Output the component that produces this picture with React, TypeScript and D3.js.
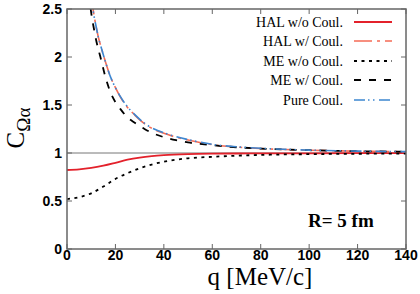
import React from "react";
import * as d3 from "d3";

const xTicks = [0, 20, 40, 60, 80, 100, 120, 140];
const yTicks = [0, 0.5, 1, 1.5, 2, 2.5];
const yTickLabels = ["0", "0.5", "1", "1.5", "2", "2.5"];

const qHalNoC = [0, 5, 10, 15, 20, 25, 30, 35, 40, 50, 60, 70, 80, 100, 120, 140];
const halNoC = [0.823, 0.83, 0.845, 0.868, 0.898, 0.93, 0.952, 0.967, 0.977, 0.988, 0.993, 0.995, 0.996, 0.997, 0.998, 0.998];

const qCoul = [10, 11, 12, 13, 14, 16, 18, 20, 22, 25, 28, 32, 36, 40, 45, 50, 60, 70, 80, 90, 100, 120, 140];
const halC = [2.63, 2.46, 2.32, 2.2, 2.11, 1.94, 1.79, 1.68, 1.585, 1.475, 1.395, 1.305, 1.245, 1.205, 1.165, 1.135, 1.087, 1.062, 1.047, 1.036, 1.029, 1.019, 1.013];
const pureC = [2.62, 2.45, 2.32, 2.2, 2.11, 1.94, 1.79, 1.68, 1.59, 1.48, 1.4, 1.31, 1.25, 1.21, 1.17, 1.14, 1.09, 1.065, 1.049, 1.038, 1.03, 1.02, 1.014];

const qMeNoC = [0, 5, 10, 15, 20, 25, 30, 35, 40, 45, 50, 60, 70, 80, 90, 100, 120, 140];
const meNoC = [0.52, 0.54, 0.58, 0.65, 0.73, 0.79, 0.84, 0.88, 0.91, 0.93, 0.945, 0.96, 0.972, 0.98, 0.985, 0.988, 0.992, 0.994];

const qMeC = [9, 10, 11, 12, 14, 16, 18, 20, 22, 25, 28, 32, 36, 40, 45, 50, 60, 70, 80, 90, 100, 120, 140];
const meC = [2.66, 2.46, 2.31, 2.18, 1.98, 1.78, 1.63, 1.53, 1.46, 1.37, 1.315, 1.25, 1.2, 1.165, 1.133, 1.11, 1.081, 1.06, 1.046, 1.036, 1.029, 1.019, 1.013];

const legendLabels = ["HAL w/o Coul.", "HAL w/ Coul.", "ME w/o Coul.", "ME w/ Coul.", "Pure Coul."];

const series = [
  { name: legendLabels[0], q: qHalNoC, v: halNoC, color: "#e3212b", dash: "", width: 1.8 },
  { name: legendLabels[1], q: qCoul, v: halC, color: "#f56b55", dash: "18,5,3,5", width: 1.6 },
  { name: legendLabels[2], q: qMeNoC, v: meNoC, color: "#000000", dash: "3,4.5", width: 1.8 },
  { name: legendLabels[3], q: qMeC, v: meC, color: "#000000", dash: "7,8", width: 1.8 },
  { name: legendLabels[4], q: qCoul, v: pureC, color: "#3d86d0", dash: "11,3,1.5,3.5,1.5,4.5", width: 1.6 },
];

export default function App() {
  const left = 67, right = 406, top = 9, bottom = 249;
  const x = d3.scaleLinear().domain([0, 140]).range([left, right]);
  const y = d3.scaleLinear().domain([0, 2.5]).range([bottom, top]);
  const line = d3
    .line<[number, number]>()
    .x((d) => x(d[0]))
    .y((d) => y(d[1]))
    .curve(d3.curveMonotoneX);
  const axisColor = "#666";
  const tickLen = 5;
  const legendX0 = 354, legendX1 = 392;
  const legendRows = [22, 41, 61, 80, 100];

  return (
    <svg
      width={420}
      height={294}
      style={{ position: "absolute", left: 0, top: 0, background: "#fff" }}
    >
      <defs>
        <clipPath id="plotClip">
          <rect x={left} y={top} width={right - left} height={bottom - top} />
        </clipPath>
      </defs>
      <rect x={0} y={0} width={420} height={294} fill="#fff" />
      {/* reference line at 1 */}
      <line x1={left} x2={right} y1={y(1)} y2={y(1)} stroke="#777" strokeWidth={1} />
      {/* ticks */}
      {xTicks.map((t) => (
        <g key={"xt" + t}>
          <line x1={x(t)} x2={x(t)} y1={bottom} y2={bottom - tickLen} stroke={axisColor} strokeWidth={1} />
          <line x1={x(t)} x2={x(t)} y1={top} y2={top + tickLen} stroke={axisColor} strokeWidth={1} />
          <text
            x={x(t)}
            y={260}
            textAnchor="middle"
            fontFamily="'Liberation Sans', Arial, sans-serif"
            fontWeight="bold"
            fontSize={14}
          >
            {t}
          </text>
        </g>
      ))}
      {yTicks.map((t, i) => (
        <g key={"yt" + t}>
          <line x1={left} x2={left + tickLen} y1={y(t)} y2={y(t)} stroke={axisColor} strokeWidth={1} />
          <line x1={right} x2={right - tickLen} y1={y(t)} y2={y(t)} stroke={axisColor} strokeWidth={1} />
          <text
            x={62}
            y={y(t) + 5}
            textAnchor="end"
            fontFamily="'Liberation Sans', Arial, sans-serif"
            fontWeight="bold"
            fontSize={14}
          >
            {yTickLabels[i]}
          </text>
        </g>
      ))}
      {/* curves */}
      <g clipPath="url(#plotClip)">
        {series.map((s) => (
          <path
            key={s.name}
            d={line(s.q.map((q, i) => [q, s.v[i]] as [number, number])) || ""}
            fill="none"
            stroke={s.color}
            strokeWidth={s.width}
            strokeDasharray={s.dash || undefined}
          />
        ))}
      </g>
      {/* frame */}
      <rect
        x={left}
        y={top}
        width={right - left}
        height={bottom - top}
        fill="none"
        stroke={axisColor}
        strokeWidth={1.5}
      />
      {/* legend */}
      {series.map((s, i) => (
        <g key={"lg" + i}>
          <text
            x={343}
            y={legendRows[i] + 5}
            textAnchor="end"
            fontFamily="'Liberation Serif', 'Times New Roman', serif"
            fontSize={14}
          >
            {s.name}
          </text>
          <line
            x1={legendX0}
            x2={legendX1}
            y1={legendRows[i]}
            y2={legendRows[i]}
            stroke={s.color}
            strokeWidth={s.width}
            strokeDasharray={s.dash || undefined}
          />
        </g>
      ))}
      {/* annotation */}
      <text
        x={308}
        y={227}
        fontFamily="'Liberation Serif', 'Times New Roman', serif"
        fontWeight="bold"
        fontSize={19}
      >
        R= 5 fm
      </text>
      {/* axis labels */}
      <text
        x={260}
        y={285}
        textAnchor="middle"
        fontFamily="'Liberation Serif', 'Times New Roman', serif"
        fontSize={25}
      >
        q [MeV/c]
      </text>
      <text
        transform="translate(24,128) rotate(-90)"
        textAnchor="middle"
        fontFamily="'Liberation Serif', 'Times New Roman', serif"
        fontSize={25}
      >
        C
        <tspan fontSize={19} dy={6}>
          Ωα
        </tspan>
      </text>
    </svg>
  );
}
